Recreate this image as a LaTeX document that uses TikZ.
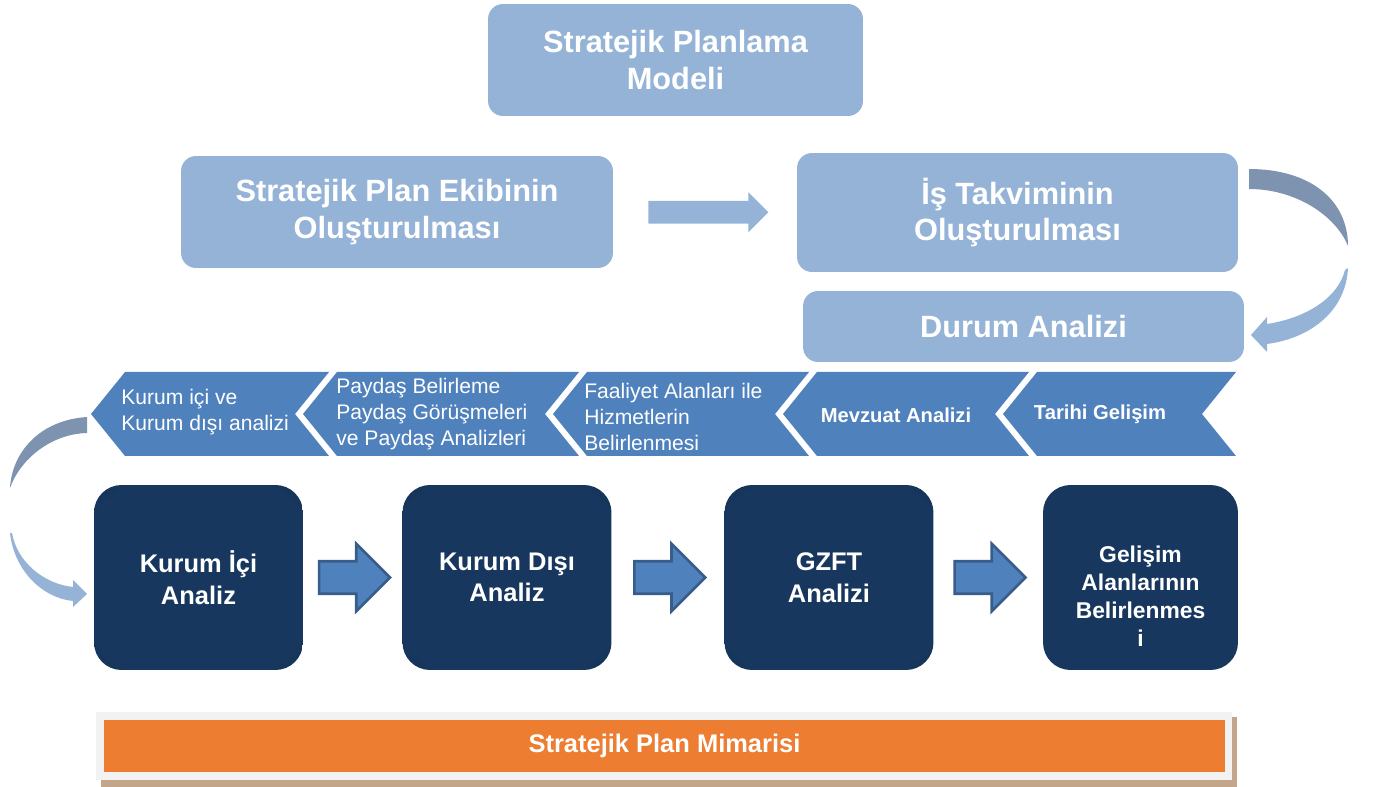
\documentclass[tikz,border=0pt]{standalone}
\usepackage{fontspec}
\setmainfont{Liberation Sans}
\usetikzlibrary{shapes.arrows,calc}

\definecolor{lightblue}{HTML}{95B3D7}
\definecolor{chevblue}{HTML}{4F81BD}
\definecolor{arrowedge}{HTML}{385D8A}
\definecolor{navy}{HTML}{17375E}
\definecolor{curvedark}{HTML}{7D93B0}
\definecolor{barorange}{HTML}{ED7D31}
\definecolor{bargray}{HTML}{F2F2F2}
\definecolor{bartan}{HTML}{C3A68A}

% navy centre, darker rim
\pgfdeclareradialshading{navyglow}{\pgfpoint{0bp}{0bp}}{rgb(0bp)=(0.09,0.216,0.369); rgb(30bp)=(0.09,0.216,0.369); rgb(52bp)=(0.05,0.11,0.2); rgb(75bp)=(0.05,0.11,0.2)}

\tikzset{
    planbox/.style={rounded corners=0.3cm, fill=lightblue, text=white, align=center, inner sep=0pt,
        font=\bfseries\fontsize{17.5}{21}\selectfont},
    navybox/.style={rounded corners=0.55cm, text=white, align=center, inner sep=0pt,
        minimum width=4.18cm, minimum height=3.7cm, font=\bfseries\fontsize{14.5}{18}\selectfont},
    darkbox/.style={navybox, shading=navyglow},
    chevtext/.style={text=white, align=left, inner sep=0pt, anchor=west, font=\fontsize{12}{15}\selectfont},
    chevbold/.style={text=white, inner sep=0pt, font=\bfseries\fontsize{11.5}{14}\selectfont},
    flatarrow/.style={single arrow, fill=lightblue, inner sep=0.22cm, single arrow head extend=0.17cm,
        minimum height=2.4cm, anchor=tail},
    stepArrow/.style={single arrow, fill=chevblue, draw=arrowedge, line width=1.5pt, inner sep=0.3cm,
        single arrow head extend=0.35cm, minimum height=1.42cm, anchor=tail}
}

\begin{document}
\begin{tikzpicture}[x=0.02cm, y=-0.02cm]
    \useasboundingbox (0,0) rectangle (1374,787);

    % Model and preparation
    \node[planbox, minimum width=7.5cm, minimum height=2.24cm] (model) at (675.5,60) {Stratejik Planlama\\Modeli};
    \node[planbox, minimum width=8.64cm, minimum height=2.24cm] (ekip) at (397,212) {Stratejik Plan Ekibinin\\Oluşturulması};
    \node[planbox, minimum width=8.82cm, minimum height=2.38cm] (takvim) at (1017.5,212.5) {İş Takviminin\\Oluşturulması};
    \node[planbox, minimum width=8.82cm, minimum height=1.42cm] (durum) at (1023.5,326.5) {Durum Analizi};
    \node[flatarrow] (a0) at ($(ekip.east)!0.5!(takvim.west)+(-57,0)$) {};

    % Curved arrow takvim -> durum
    \fill[curvedark] (1249,169) .. controls (1310,169) and (1348,200) .. (1348,246)
        .. controls (1336,216) and (1296,189) .. (1249,189) -- cycle;
    \fill[lightblue] (1348,268) .. controls (1346,310) and (1312,338) .. (1267,344)
        -- (1267,352) -- (1251,335) -- (1267,317) -- (1267,324)
        .. controls (1306,318) and (1338,298) .. (1345,270) -- cycle;

    % Chevrons
    \foreach \tip/\notch in {91/295, 303/545, 553/775, 783/995, 1003/1202}
        \fill[chevblue] (\tip,414) -- (\tip+34,372) -- (\notch+34,372) -- (\notch,414)
            -- (\notch+34,456) -- (\tip+34,456) -- cycle;
    \node[chevtext] (ch1) at (121,412) {Kurum içi ve\\Kurum dışı analizi};
    \node[chevtext] (ch2) at (336,414) {Paydaş Belirleme\\Paydaş Görüşmeleri\\ve Paydaş Analizleri};
    \node[chevtext] (ch3) at (584,417) {Faaliyet Alanları ile\\Hizmetlerin\\Belirlenmesi};
    \node[chevbold] (ch4) at (896,415) {Mevzuat Analizi};
    \node[chevbold] (ch5) at (1100,414) {Tarihi Gelişim};

    % Curved arrow chevrons -> first step
    \fill[curvedark] (87,417) .. controls (40,420) and (12,452) .. (10,488)
        .. controls (20,460) and (50,434) .. (87,433) -- cycle;
    \fill[lightblue] (10,533) .. controls (14,570) and (42,598) .. (73,601)
        -- (73,607) -- (87,594) -- (73,580) -- (73,587)
        .. controls (44,584) and (17,562) .. (12,533) -- cycle;

    % Analysis steps
    \node[darkbox] (ic) at (198.5,577.5) {Kurum İçi\\Analiz};
    \node[darkbox] (dis) at (507,577.5) {Kurum Dışı\\Analiz};
    \node[darkbox] (gzft) at (829,577.5) {GZFT\\Analizi};
    \node[navybox, fill=navy, minimum width=3.9cm] (gelisim) at (1140.5,577.5) {};
    \node[text=white, align=center, font=\bfseries\fontsize{13}{16}\selectfont] (gelisimtext)
        at ($(gelisim.center)+(0,19)$) {Gelişim\\Alanlarının\\Belirlenmes\\i};
    \node[stepArrow] (a1) at ($(ic.east)!0.5!(dis.west)+(-35,0)$) {};
    \node[stepArrow] (a2) at ($(dis.east)!0.5!(gzft.west)+(-35,0)$) {};
    \node[stepArrow] (a3) at ($(gzft.east)!0.5!(gelisim.west)+(-35,0)$) {};

    % Architecture bar
    \fill[bartan] (101,717) rectangle (1237,787);
    \fill[bargray] (96,712) rectangle (1232,780);
    \node[fill=barorange, text=white, minimum width=22.42cm, minimum height=1.04cm, inner sep=0pt,
        font=\bfseries\fontsize{14.5}{17}\selectfont] (mimari) at (664.5,746) {Stratejik Plan Mimarisi};
\end{tikzpicture}
\end{document}
